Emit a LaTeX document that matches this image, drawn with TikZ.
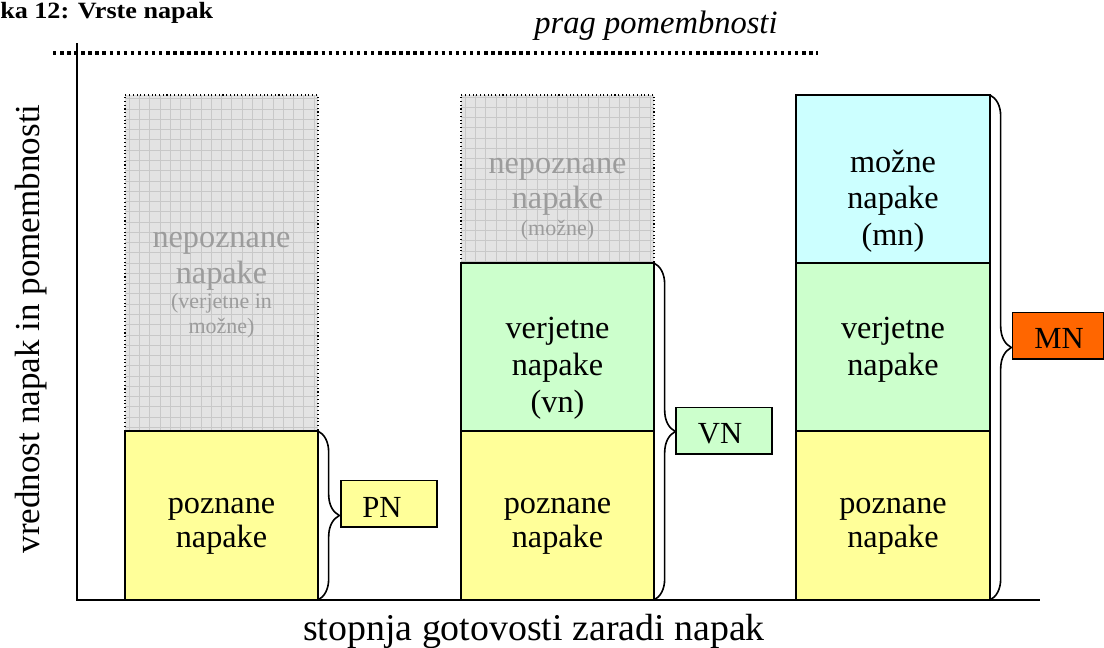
\documentclass[tikz,border=0pt]{standalone}
\usepackage{fontspec}
\setmainfont{Liberation Serif}
\usetikzlibrary{decorations.pathreplacing}
\definecolor{yel}{HTML}{FFFF99}
\definecolor{grn}{HTML}{CCFFCC}
\definecolor{cya}{HTML}{CCFFFF}
\definecolor{org}{HTML}{FF6600}
\definecolor{gfill}{HTML}{E3E3E3}
\definecolor{gline}{HTML}{C8C8C8}
\definecolor{gtext}{HTML}{9C9C9C}
\begin{document}
\begin{tikzpicture}[x=0.75pt,y=-0.75pt,
  bar/.style={draw=black, line width=1.2pt, inner sep=0pt, outer sep=0pt},
  unk/.style={fill=gfill, draw=black, dotted, line width=0.8pt, inner sep=0pt, outer sep=0pt,
    path picture={\draw[gline, line width=0.5pt, solid, step=7.7pt]
      (path picture bounding box.south west) grid (path picture bounding box.north east);}},
  lbl/.style={draw=black, line width=1pt, inner sep=0pt, outer sep=0pt,
    minimum width=72pt, minimum height=35pt},
  lbltxt/.style={anchor=base, inner sep=0pt, font=\fontsize{23}{27}\selectfont},
  txt/.style={anchor=base, inner sep=0pt, font=\fontsize{24.2}{28}\selectfont},
  gbig/.style={txt, text=gtext},
  gsmall/.style={anchor=base, inner sep=0pt, text=gtext, font=\fontsize{16.5}{19}\selectfont},
  brc/.style={decorate, decoration={brace, amplitude=16pt}, line width=1.2pt}
]
\useasboundingbox (0,0) rectangle (1104,647);

% title and threshold
\node[anchor=base west, inner sep=0pt, xscale=1.12, font=\bfseries\fontsize{17.5}{20}\selectfont] (title) at (0,18.5) {ka 12: Vrste napak};
\node[anchor=base, inner sep=0pt, font=\itshape\fontsize{24.4}{28}\selectfont] (prag) at (656,33) {prag pomembnosti};
\coordinate (thl) at (53,53);
\coordinate (thr) at (818,53);
\draw[line width=2.6pt, dash pattern=on 2.6pt off 2.7pt] (thl) -- (thr);

% bar 1
\node[unk, minimum width=144.75pt, minimum height=252pt] (g1) at (221.5,263) {};
\node[bar, fill=yel, minimum width=144.75pt, minimum height=126.75pt] (y1) at (221.5,515.5) {};
% bar 2
\node[unk, minimum width=144.75pt, minimum height=126pt] (g2) at (557.5,179) {};
\node[bar, fill=grn, minimum width=144.75pt, minimum height=126pt] (v2) at (557.5,347) {};
\node[bar, fill=yel, minimum width=144.75pt, minimum height=126.75pt] (y2) at (557.5,515.5) {};
% bar 3
\node[bar, fill=cya, minimum width=145.5pt, minimum height=126pt] (c3) at (893,179) {};
\node[bar, fill=grn, minimum width=145.5pt, minimum height=126pt] (v3) at (893,347) {};
\node[bar, fill=yel, minimum width=145.5pt, minimum height=126.75pt] (y3) at (893,515.5) {};

% axes
\coordinate (ytop) at (77,43);
\coordinate (orig) at (77,600);
\coordinate (xend) at (1040,600);
\draw[line width=1.5pt] (ytop) -- (orig) -- (xend);
\node[anchor=base, inner sep=0pt, rotate=90, font=\fontsize{26.3}{30}\selectfont] (ylab) at (39,329) {vrednost napak in pomembnosti};
\node[anchor=base, inner sep=0pt, font=\fontsize{28.4}{32}\selectfont] (xlab) at (534,640) {stopnja gotovosti zaradi napak};

% texts bar 1
\node[gbig] (t1a) at (221.5,247) {nepoznane};
\node[gbig] (t1b) at (221.5,283) {napake};
\node[gsmall] (t1c) at (221.5,308) {(verjetne in};
\node[gsmall] (t1d) at (221.5,333) {možne)};
\node[txt] (t1e) at (221.5,513) {poznane};
\node[txt] (t1f) at (221.5,547) {napake};
% texts bar 2
\node[gbig] (t2a) at (557.5,173) {nepoznane};
\node[gbig] (t2b) at (557.5,208) {napake};
\node[gsmall] (t2c) at (557.5,235) {(možne)};
\node[txt] (t2d) at (557.5,338) {verjetne};
\node[txt] (t2e) at (557.5,375) {napake};
\node[txt] (t2f) at (557.5,412) {(vn)};
\node[txt] (t2g) at (557.5,513) {poznane};
\node[txt] (t2h) at (557.5,547) {napake};
% texts bar 3
\node[txt] (t3a) at (893,172) {možne};
\node[txt] (t3b) at (893,208) {napake};
\node[txt] (t3c) at (893,245) {(mn)};
\node[txt] (t3d) at (893,338) {verjetne};
\node[txt] (t3e) at (893,375) {napake};
\node[txt] (t3f) at (893,513) {poznane};
\node[txt] (t3g) at (893,547) {napake};

% labels
\node[lbl, fill=yel] (pn) at (389,503.5) {};
\node[lbltxt] (pnt) at (382,517) {PN};
\node[lbl, fill=grn] (vn) at (724,430.5) {};
\node[lbltxt] (vnt) at (720,443) {VN};
\node[lbl, fill=org, minimum width=68pt] (mn) at (1058,335.5) {};
\node[lbltxt] (mnt) at (1059,348) {MN};

% braces
\draw[brc] (y1.north east) -- (y1.south east);
\draw[brc] (v2.north east) -- (y2.south east);
\draw[brc] (c3.north east) -- (y3.south east);
\end{tikzpicture}
\end{document}
